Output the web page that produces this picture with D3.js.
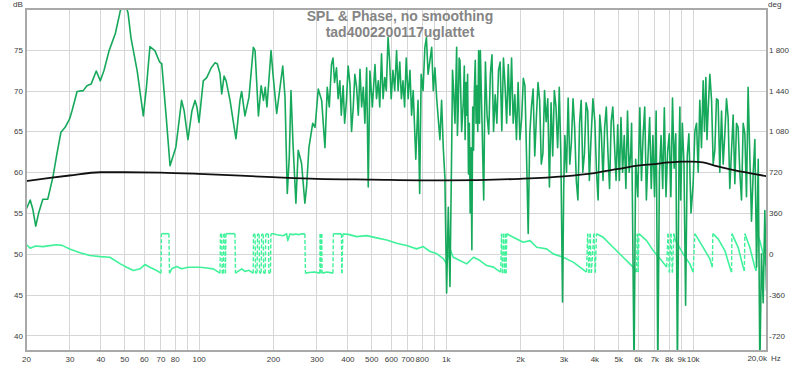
<!DOCTYPE html>
<html><head><meta charset="utf-8">
<script src="https://cdn.jsdelivr.net/npm/d3@7/dist/d3.min.js"></script>
<style>
html,body{margin:0;padding:0;background:#fff;}
svg{display:block;font-family:"Liberation Sans",Arial,sans-serif;}
</style></head>
<body><svg id="c" width="800" height="365"></svg>
<script>
const titleLines = ["SPL & Phase, no smoothing", "tad4002200117uglattet"];
const dbTicks = [40,45,50,55,60,65,70,75];
const degTicks = [-720,-360,0,360,720,1080,1440,1800];
const xGrid = [30,40,50,60,70,80,90,100,200,300,400,500,600,700,800,900,1000,2000,3000,4000,5000,6000,7000,8000,9000,10000];
const xTickVals = [20,30,40,50,60,70,80,100,200,300,400,500,600,700,800,1000,2000,3000,4000,5000,6000,7000,8000,9000,10000];
const xTickLabels = ["20","30","40","50","60","70","80","100","200","300","400","500","600","700","800","1k","2k","3k","4k","5k","6k","7k","8k","9k","10k"];

// SPL (dB)
const splHz = [20,20.8,21.3,21.9,22.5,23.4,24.5,25.7,26.7,27.7,28.8,30,30.7,32.2,34.1,35.3,36.7,38.5,40,41.4,43.4,46,48.2,50,51.8,53.2,56.4,59.7,61.5,63.5,66.5,69.5,70.9,73.8,76.6,80.9,85.3,87.4,90.5,93.9,96.7,98.4,100.3,
104.4,107.8,112.5,116.4,119,122,124,126.8,129.2,134,141.6,147,149.3,154,159.9,166.5,169.2,174.6,179.1,183,186,189,196.4,200,207,219,223.7,228.5,232.8,236.5,241,247.6,253,261,269.2,273.5,279.5,289.5,296,
305,314.8,324.6,331.6,338,345,350,355,361.5,367,373,378,384.6,390,396.7,403,409.8,416,422.5,429,436,443,450,457,464,471,478.8,486,493.7,505,517.5,525,533.6,541,550,558,567,575,584.5,593,602,611.8,622,633,642,652,662,672,682,692.5,705,717,728,739,757,773,785,796,810,824,836,849,862,878,891,905,920,948,963,978,993,
1009,1025,1041,1058,1066,1074,1091,1108,1116,1125,1134,1143,1161,1180,1190,1199,1208,1218,1227,1237,1247,1257,1267,1277,1287,1297,1307,1318,1328,1338,1349,1360,1371,1382,1404,1426,1437,1449,1471,1494,1517,1540,1563,1587,1612,1637,1662,1688,1714,1740,1766,1793,1821,1849,1877,1906,1935,1965,1998,
2032,2063,2094,2126,2159,2191,2225,2260,2295,2330,2366,2402,2439,2476,2514,2552,2591,2631,2672,2713,2754,2797,2840,2862,2884,2928,2973,
3006,3039,3086,3133,3181,3230,3279,3329,3380,3432,3485,3538,3592,3647,3703,3760,3818,3876,3947,4019,4081,4143,4207,4271,4337,4403,4471,4539,4609,4679,4751,4824,4898,4973,
5050,5127,5206,5285,5367,5449,5533,5617,5660,5703,5791,5879,5995,6113,6207,6301,6398,6496,6596,6697,6800,6904,7010,7117,7227,7338,7450,7565,7680,7800,7918,8040,8163,8288,8416,8546,8677,8811,8878,8947,9085,9223,9365,9510,9655,9850,
10047,10210,10370,10530,10690,10860,11030,11170,11310,11430,11550,11740,11930,12110,12300,12490,12680,12880,13090,13290,13500,13710,13920,14140,14370,14590,14820,15050,15280,15520,15770,16020,16270,16520,16770,17040,17310,17580,17860,18150,18430,18710,19000,19300,19600,19910,20000];
const splDb = [55.4,56.6,55.5,53.4,55.0,56.7,56.7,59.4,62.3,64.9,65.5,66.5,67.5,69.9,70.0,70.6,70.8,72.4,71.2,72.5,74.9,77.0,79.8,81,79.5,76.5,72.4,66.9,70.5,75.4,74.9,73.5,73.3,67,60.8,63.1,68.8,67.5,64,67.5,68.8,68.0,66.1,
71.2,71.6,72.8,73.4,73.3,72.1,69.6,71.8,71.2,68.8,64.1,68.8,69.9,66.9,69.2,75.3,74.9,66.9,70.6,68.8,70.4,68,74.9,72,67.2,73,69.2,57.4,61.9,70,63.5,56.2,62.7,61.1,56.2,58.2,63,66,65.5,
70.2,68.8,63,70.4,68,73.2,74,71,72.8,69,71.2,67,70.6,66,68.8,73,70.8,65,67.9,72,70.4,67,72.6,68,70.4,66,72.8,58.2,72.4,68,73.2,69,71.2,68,74.5,69,71.6,70,76.5,73.7,69,72.5,70,74.9,70,73.5,69,71.2,68,74,69,72.5,67,70,61.6,68.8,57.4,72,70,75.3,76.5,72,73.5,75.3,70,72.8,69,64,68.8,63,59.4,
45.2,55.7,46,63.1,72.5,70.8,66,75.3,64.5,68,74,73.7,65,68.8,73,64,71,67,72,59.8,66,55,63,50.5,68,62.7,70,73.7,66,70.6,65,74.9,66,74.9,66,56.6,66,73.5,67,64.7,72,74.4,65,69.5,66,72.5,73.5,65.1,74,70.6,66,73.2,67,74,66,69.5,64,71,64,
66.7,71.5,70.6,62,52.5,64.7,68,70.2,62,66.7,71,68.8,61,62.3,70,66.2,69,58.2,68.5,62,70,68,63,66,70.4,62,44.1,
58,64.5,60,69.1,61,63.7,69,65.5,59,56.6,66,68.8,60,62.3,68.5,67.5,59,64,69,66.2,60,56.6,67,64.7,59,65.5,68,62.5,58,66.2,68,63.5,59,65.8,
59,66.7,60,64.5,58,67.5,60,62.5,66,56.6,36,61.6,57,67.9,59,64.5,68,56.6,62,66.7,58,64.5,57,67.5,36,60,64.5,58,67.9,57,62.5,64.7,57,69.1,60.5,64.7,36,63,68,56.6,66,61,43.7,62,64.7,55,
58.6,65,66,60,68.8,63,71.2,65,71.6,64,67.5,72,68.8,61,62.7,69,68.8,60,67.5,61,64.7,69,66.7,58,62.7,67,58.6,66,65.5,60,56.6,66,64.7,57,70.4,62,54,59.8,64,48.4,61.6,36,50,44,55.3,45.5,53];

// smooth black curve (dB)
const refHz = [20,25,30,40,50,70,100,200,300,500,1000,2000,3000,4000,5000,6000,7000,8000,9000,10000,11000,12500,15000,17000,20000];
const refDb = [58.9,59.3,59.6,60.0,60.0,59.95,59.8,59.4,59.2,59.1,59.0,59.2,59.5,59.9,60.4,60.8,61.0,61.2,61.3,61.3,61.2,60.75,60.2,59.9,59.5];

// wrapped phase (deg)
const phaseHz = [20,20.8,21.9,23.4,25,26.5,28,30.2,33.1,36.3,40,43.7,48.2,51.1,54.4,57.9,60.6,63.5,67.6,70.4,70.7,75.8,76.2,77.8,81.4,85.3,90.4,95.1,101.3,107.8,114.6,
122,122.6,124,124.6,125.8,126.4,127.7,128.3,129,140.3,141,149.3,154,159.9,166.3,166.8,169.2,170,172.4,173.2,175.7,176.5,179.1,180,182.6,183.4,186,187,191.6,192.5,195.3,196.2,200.5,207,220.2,227,229.6,
234.4,241,247.6,252,261,269.2,270.7,280.3,294.5,309.3,310.7,312,314.8,316.2,330.6,349.6,351.2,378.6,380,383.7,403.4,436,478.8,525.7,577,633,695.5,762.6,811.2,862,921.3,980.6,1009,1041,1073,1142,1216,1297,1377,1466,1562,1634,1671,
1684,1700,1716,1732,1748,1756,1768,1878,2062,2196,2337,2563,2725,2992,3284,3495,3720,3759,3806,3848,3890,3981,4037,4080,4345,4763,5233,5742,5927,5970,6017,6060,6510,6922,7486,7844,
7950,8052,8170,8280,8400,8470,9150,9742,10047,10207,11028,11740,12016,12070,12683,13500,14145,14374,14420,15280,16015,16194,16270,17036,17850,18100,18180,18710,19300,19790,20000];
const phaseDeg = [85,50,70,64,73,80,75,41,9,-15,-24,-30,-88,-118,-147,-132,-94,-118,-147,-170,178,178,-170,-132,-112,-132,-118,-118,-118,-124,-132,
-170,175,175,-170,-170,175,175,-170,178,178,-170,-132,-155,-145,-170,175,170,-170,-165,175,172,-170,-165,175,170,-170,-170,175,175,-170,-165,178,178,168,160,178,117,
176,170,176,170,176,176,-170,-165,-160,-170,175,-170,175,-170,-160,-170,178,176,-170,176,172,152,161,141,123,93,73,44,64,23,0,-44,-88,44,-30,-59,-88,-30,-59,-103,-117,-147,-161,
178,-170,178,-170,178,-170,178,146,102,117,58,44,0,-30,-73,-117,-161,178,-168,178,-168,178,-165,178,146,58,-30,-117,-161,178,-160,178,117,29,-59,-117,
178,-165,178,-165,178,130,0,-88,-161,178,58,-44,-117,178,132,29,-117,-161,178,58,-117,-150,178,58,-117,-150,178,117,0,-100,-60];

const svg = d3.select("#c");
const L=26,R=767,T=9,B=351;
const x = d3.scaleLog().domain([20,20000]).range([L,R]);
const yDb = d3.scaleLinear().domain([38.1,80]).range([B,T]);
const yDeg = d3.scaleLinear().domain([(38.1-50)*72,(80-50)*72]).range([B,T]);

svg.append("defs").append("clipPath").attr("id","clip").append("rect")
  .attr("x",L).attr("y",T).attr("width",R-L).attr("height",B-T);

// grid
const grid = svg.append("g").attr("stroke","#d6d6d6").attr("stroke-width",1);
grid.selectAll(".vx").data(xGrid).join("line")
  .attr("x1",d=>Math.round(x(d))+0.5).attr("x2",d=>Math.round(x(d))+0.5).attr("y1",T).attr("y2",B);
grid.selectAll(".hy").data(dbTicks).join("line")
  .attr("y1",d=>Math.round(yDb(d))+0.5).attr("y2",d=>Math.round(yDb(d))+0.5).attr("x1",L).attr("x2",R);

const plot = svg.append("g").attr("clip-path","url(#clip)");

// phase: continuous runs solid, wraps dashed
const pts = phaseHz.map((f,i)=>[f,phaseDeg[i]]);
let runs=[[pts[0]]], wraps=[];
for(let i=1;i<pts.length;i++){
  if(Math.abs(pts[i][1]-pts[i-1][1])>250){ wraps.push([pts[i-1],pts[i]]); runs.push([pts[i]]); }
  else runs[runs.length-1].push(pts[i]);
}
const pline = d3.line().x(d=>x(d[0])).y(d=>yDeg(d[1]));
const phaseColor = "#3ff29a";
plot.selectAll(".prun").data(runs).join("path").attr("d",pline)
  .attr("fill","none").attr("stroke",phaseColor).attr("stroke-width",1.6).attr("stroke-linejoin","round");
plot.selectAll(".pwrap").data(wraps).join("path").attr("d",pline)
  .attr("fill","none").attr("stroke",phaseColor).attr("stroke-width",1.4).attr("stroke-dasharray","4,2");

// SPL
const sline = d3.line().x((d,i)=>x(splHz[i])).y(d=>yDb(d));
plot.append("path").attr("d",sline(splDb)).attr("fill","none")
  .attr("stroke","#17a95b").attr("stroke-width",1.6).attr("stroke-linejoin","round");

// smooth reference
const rline = d3.line().curve(d3.curveMonotoneX).x((d,i)=>x(refHz[i])).y(d=>yDb(d));
plot.append("path").attr("d",rline(refDb)).attr("fill","none")
  .attr("stroke","#111").attr("stroke-width",1.8);

// frame
svg.append("rect").attr("x",L).attr("y",T).attr("width",R-L).attr("height",B-T)
  .attr("fill","none").attr("stroke","#a9a9a9").attr("stroke-width",2);

// axes
const tickColor="#3a3a3a";
const ax = svg.append("g").attr("transform",`translate(${L-3},0)`)
  .call(d3.axisLeft(yDb).tickValues(dbTicks).tickSize(0).tickPadding(0));
const fmt = d3.formatLocale({decimal:",",thousands:" ",grouping:[3],currency:["",""]}).format(",");
const ar = svg.append("g").attr("transform",`translate(${R+2},0)`)
  .call(d3.axisRight(yDeg).tickValues(degTicks).tickSize(0).tickPadding(0).tickFormat(d=>fmt(d).replace("−","-")));
const axb = svg.append("g").attr("transform",`translate(0,${B+5})`)
  .call(d3.axisBottom(x).tickValues(xTickVals).tickSize(0).tickPadding(0).tickFormat((d,i)=>xTickLabels[i]));
[ax,ar,axb].forEach(g=>{g.select(".domain").remove();
  g.selectAll("text").attr("fill",tickColor).style("font-size","8px").style("font-family","'Liberation Sans',Arial,sans-serif");});

svg.append("text").attr("x",R).attr("y",361).attr("text-anchor","end").attr("fill",tickColor)
  .style("font-size","8px").text("20,0k");
svg.append("text").attr("x",771).attr("y",361).attr("fill",tickColor).style("font-size","8px").text("Hz");
svg.append("text").attr("x",13).attr("y",7).attr("fill",tickColor).style("font-size","8px").text("dB");
svg.append("text").attr("x",768).attr("y",7).attr("fill",tickColor).style("font-size","8px").text("deg");

svg.selectAll(".title").data(titleLines).join("text")
  .attr("x",400).attr("y",(d,i)=>21+i*16).attr("text-anchor","middle")
  .attr("fill","#858585").style("font-size","14px").style("font-weight","bold").text(d=>d);
</script></body></html>
